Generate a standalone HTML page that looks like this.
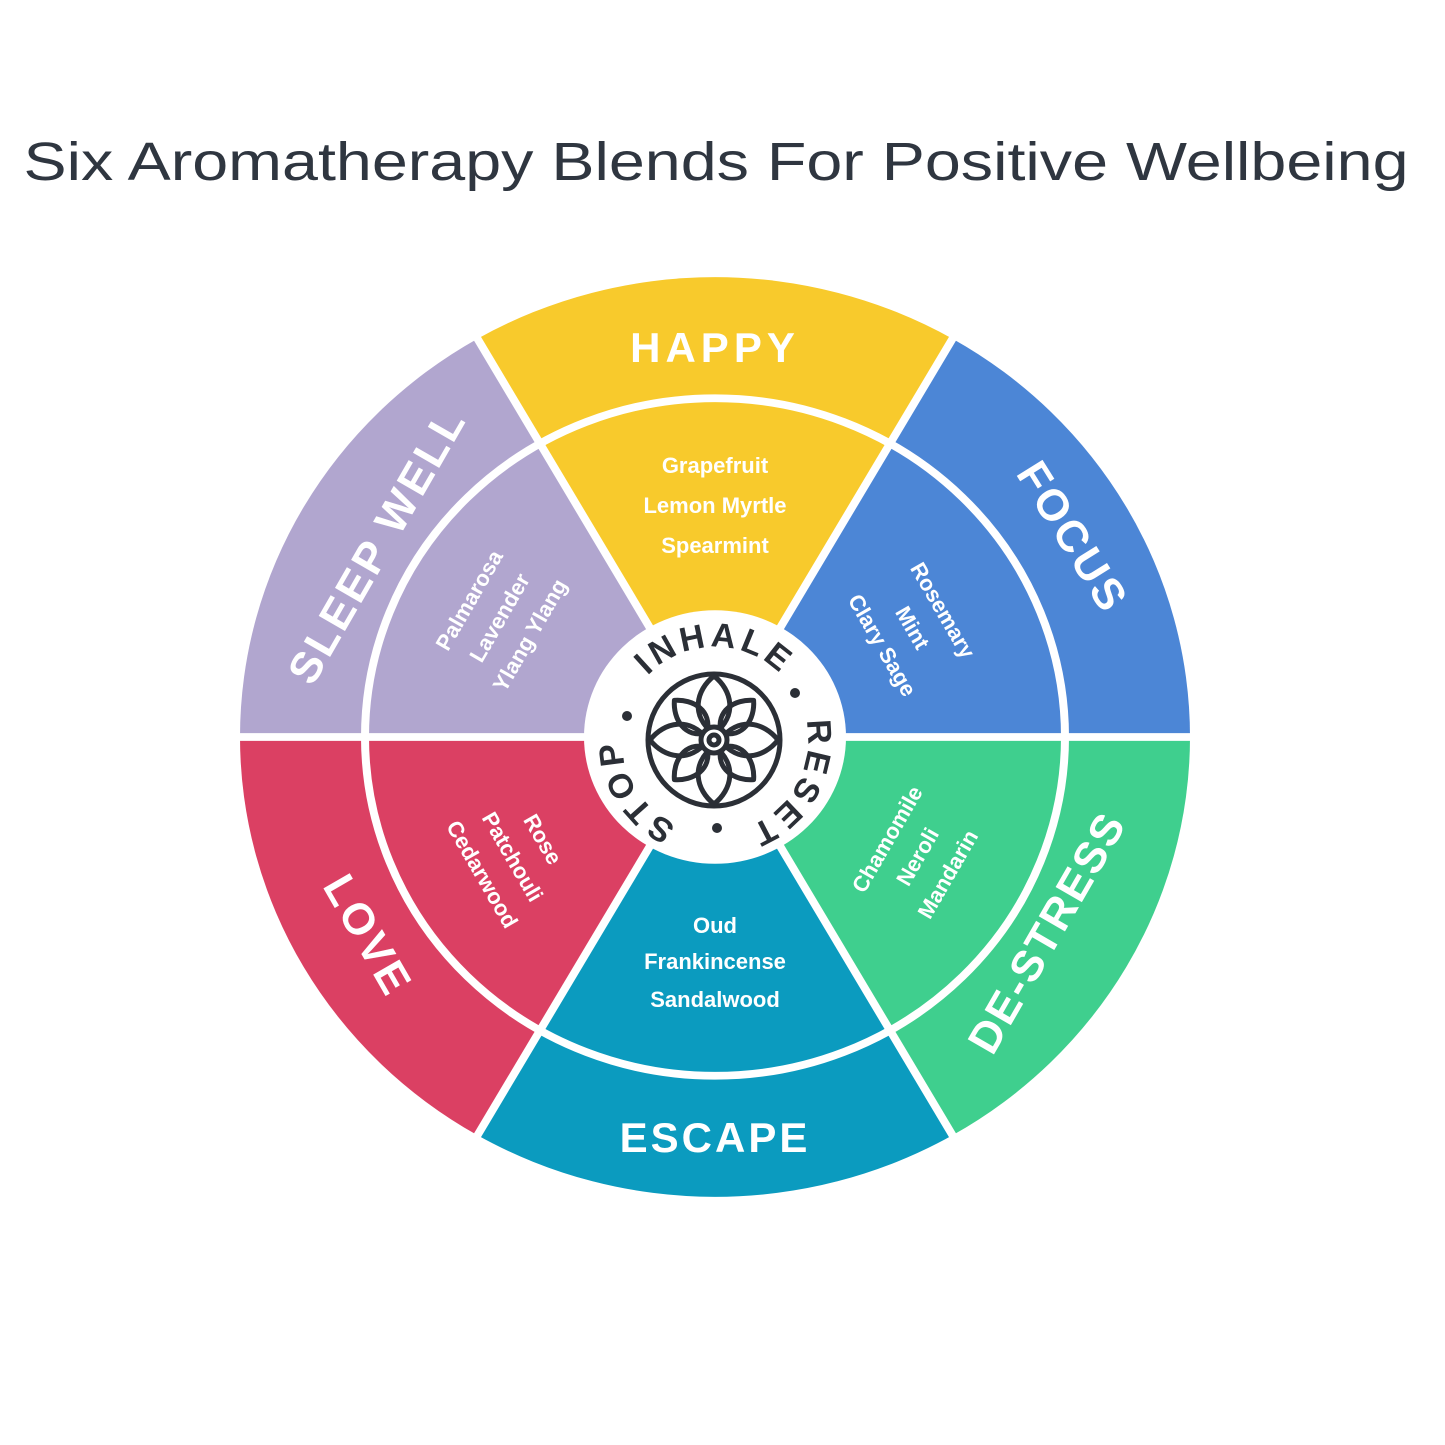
<!DOCTYPE html>
<html><head><meta charset="utf-8"><style>
html,body{margin:0;padding:0;background:#fff;}
svg{display:block;}
text{font-family:"Liberation Sans",sans-serif;}
</style></head><body>
<svg width="1445" height="1445" viewBox="0 0 1445 1445" xmlns="http://www.w3.org/2000/svg">
<rect width="1445" height="1445" fill="#fff"/>
<text x="716" y="180" font-size="54" fill="#2f3640" text-anchor="middle" textLength="1385" lengthAdjust="spacingAndGlyphs">Six Aromatherapy Blends For Positive Wellbeing</text>

<g transform="translate(715,737) scale(1,0.968)">
  <path d="M0,0 L475,0 A475,475 0 0,0 237.5,-411.4 Z" fill="#4c86d6"/>
  <path d="M0,0 L237.5,-411.4 A475,475 0 0,0 -237.5,-411.4 Z" fill="#f8ca2c"/>
  <path d="M0,0 L-237.5,-411.4 A475,475 0 0,0 -475,0 Z" fill="#b1a6cf"/>
  <path d="M0,0 L-475,0 A475,475 0 0,0 -237.5,411.4 Z" fill="#db4063"/>
  <path d="M0,0 L-237.5,411.4 A475,475 0 0,0 237.5,411.4 Z" fill="#0b9bbf"/>
  <path d="M0,0 L237.5,411.4 A475,475 0 0,0 475,0 Z" fill="#3fcf8e"/>
  <g stroke="#fff" stroke-width="8" fill="none">
    <circle r="350"/>
    <line x1="-480" y1="0" x2="480" y2="0"/>
    <line x1="-240" y1="-415.7" x2="240" y2="415.7"/>
    <line x1="240" y1="-415.7" x2="-240" y2="415.7"/>
  </g>
  <circle r="131" fill="#fff"/>
</g>

<g fill="#fff" font-weight="bold" text-anchor="middle">
  <text x="715" y="362" font-size="42" letter-spacing="5">HAPPY</text>
  <text x="715" y="1152" font-size="42" letter-spacing="3">ESCAPE</text>
  <text transform="translate(390,553) rotate(-60)" font-size="44" letter-spacing="3">SLEEP WELL</text>
  <text transform="translate(1060,545) rotate(58)" font-size="44" letter-spacing="3">FOCUS</text>
  <text transform="translate(1060,940) rotate(-60)" font-size="44" letter-spacing="2">DE-STRESS</text>
  <text transform="translate(355,943) rotate(60)" font-size="44" letter-spacing="3">LOVE</text>
</g>

<g fill="#fff" font-size="22" font-weight="bold" text-anchor="middle">
  <text x="715" y="473">Grapefruit</text>
  <text x="715" y="513">Lemon Myrtle</text>
  <text x="715" y="553">Spearmint</text>
  <text x="715" y="933">Oud</text>
  <text x="715" y="969">Frankincense</text>
  <text x="715" y="1007">Sandalwood</text>
  <g transform="translate(500,618) rotate(-60)">
    <text y="-28">Palmarosa</text><text y="7">Lavender</text><text y="42">Ylang Ylang</text>
  </g>
  <g transform="translate(912,628) rotate(60)">
    <text y="-28">Rosemary</text><text y="7">Mint</text><text y="42">Clary Sage</text>
  </g>
  <g transform="translate(918,857) rotate(-60)">
    <text y="-28">Chamomile</text><text y="7">Neroli</text><text y="42">Mandarin</text>
  </g>
  <g transform="translate(512,857) rotate(60)">
    <text y="-28">Rose</text><text y="7">Patchouli</text><text y="42">Cedarwood</text>
  </g>
</g>

<!-- center emblem -->
<defs>
  <path id="ring" d="M715,833 A93,93 0 1,1 715,647 A93,93 0 1,1 715,833"/>
</defs>
<g fill="#2b2f36" font-weight="bold" font-size="34">
  <text text-anchor="middle" letter-spacing="4"><textPath href="#ring" startOffset="16%">STOP</textPath></text>
  <text text-anchor="middle" letter-spacing="4"><textPath href="#ring" startOffset="50%">INHALE</textPath></text>
  <text text-anchor="middle" letter-spacing="4"><textPath href="#ring" startOffset="83%">RESET</textPath></text>
  <circle cx="627" cy="716" r="5"/>
  <circle cx="795" cy="693" r="5"/>
  <circle cx="717" cy="828" r="5"/>
</g>
<g transform="translate(714,740)" fill="none" stroke="#2b2f36" stroke-width="5" stroke-linejoin="round">
  <circle r="66"/>
  <path d="M0,-6 C-24,-24 -18,-50 0,-64 C18,-50 24,-24 0,-6Z"/>
  <path d="M0,6 C-24,24 -18,50 0,64 C18,50 24,24 0,6Z"/>
  <path d="M-6,0 C-24,-24 -50,-18 -64,0 C-50,18 -24,24 -6,0Z"/>
  <path d="M6,0 C24,-24 50,-18 64,0 C50,18 24,24 6,0Z"/>
  <g transform="rotate(45)">
    <path d="M0,-10 C-20,-22 -14,-44 0,-56 C14,-44 20,-22 0,-10Z"/>
    <path d="M0,10 C-20,22 -14,44 0,56 C14,44 20,22 0,10Z"/>
    <path d="M-10,0 C-22,-20 -44,-14 -56,0 C-44,14 -22,20 -10,0Z"/>
    <path d="M10,0 C22,-20 44,-14 56,0 C44,14 22,20 10,0Z"/>
  </g>
  <circle r="13" fill="#fff"/>
  <circle r="5"/>
</g>
</svg>
</body></html>
